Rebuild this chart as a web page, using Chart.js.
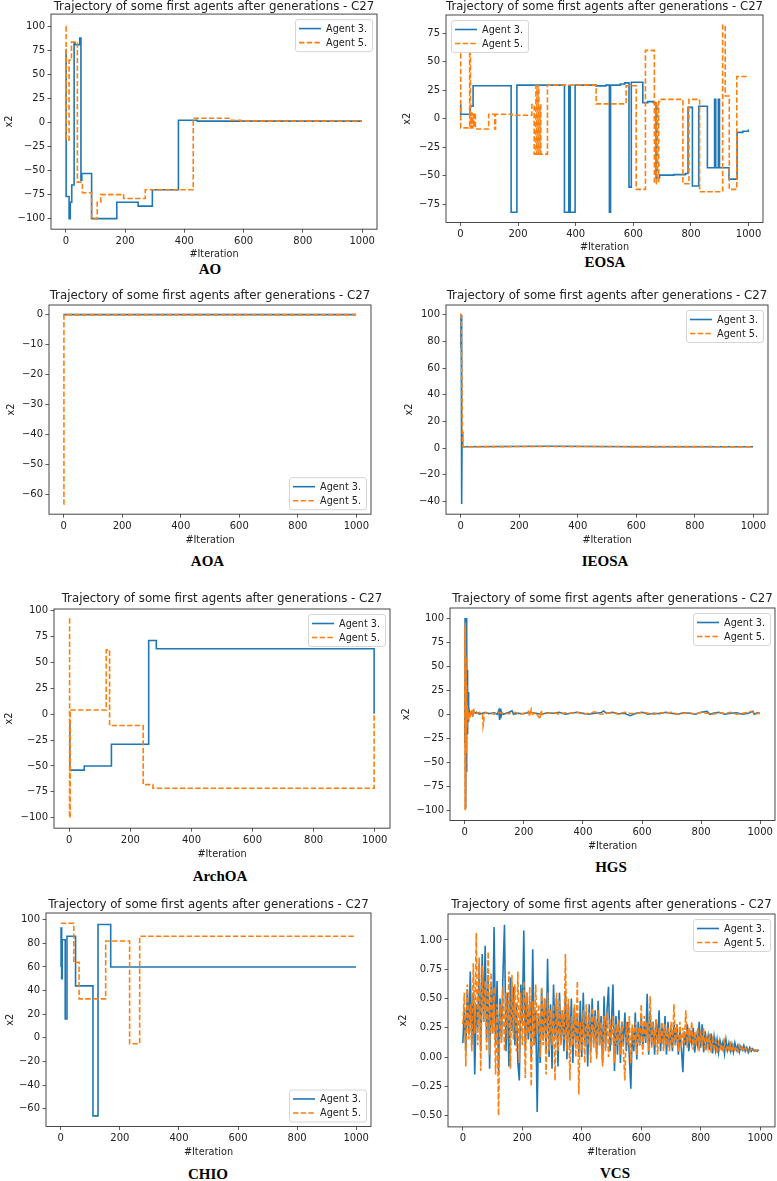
<!DOCTYPE html>
<html>
<head>
<meta charset="utf-8">
<script src="https://cdn.jsdelivr.net/npm/chart.js@4.4.1/dist/chart.umd.min.js"></script>
<style>
  html, body { margin: 0; padding: 0; background: #fff; }
  body { position: relative; width: 777px; height: 1181px; overflow: hidden; }
  canvas { position: absolute; }
  .cap {
    position: absolute; transform: translate(-50%, -50%);
    font-family: "Liberation Serif", "Times New Roman", serif;
    font-weight: bold; font-size: 15px; color: #000; white-space: nowrap;
  }
</style>
</head>
<body>
<script>
// ---------- data ----------
const seriesNames = ["Agent 3.", "Agent 5."];
const titleText = "Trajectory of some first agents after generations - C27";
const xTicks = [0, 200, 400, 600, 800, 1000];

// [iteration, x2] change points
const aoAgent3 = [[0,76],[1,-77],[11,-100],[15,-83],[20,-65],[28,83],[31,81],[47,88],[51,-60],[54,-53],[87,-100],[172,-83],[244,-87],[292,-70],[380,2.5],[444,1.5],[999,1.5]];
const aoAgent5 = [[0,100],[1,-18],[11,65],[19,84],[39,-62],[56,-73],[87,-100],[106,-83],[118,-75],[195,-79],[268,-70],[430,4.5],[555,2.5],[590,1.5],[999,1.5]];
const aoYTicks = [100, 75, 50, 25, 0, -25, -50, -75, -100];

const eosaAgent3 = [[0,12],[1,4],[34,11],[44,29],[176,-82],[196,29.5],[361,-82],[376,29],[381,-82],[398,29.5],[470,28.8],[505,29.5],[517,-82],[521,29.5],[555,30.5],[570,31.5],[585,-60],[593,32],[633,14],[650,15],[670,14],[679,-52],[691,-49.5],[740,-49],[781,-48],[790,10],[805,-59],[827,11],[857,-43],[882,17],[886,-43],[895,17],[899,-43],[932,-53],[960,-12],[980,-11],[999,-9.5]];
const eosaAgent5 = [[0,57],[1,-8],[32,57],[35,-8],[38,5],[40,-8],[43,4],[46,-7],[49,5],[52,-9],[98,4],[119,-9],[122,4],[180,3],[248,12.5],[256,-31],[262,29],[265,-31],[269,29],[272,-31],[276,12],[279,-31],[302,29.5],[471,13],[575,29],[610,-62],[642,60],[673,-57],[680,14],[684,-55],[688,15],[691,17],[772,-57],[793,17],[830,-64],[910,82],[919,20],[933,-62],[959,37],[999,37]];
const eosaYTicks = [75, 50, 25, 0, -25, -50, -75];

const aoaAgent3 = [[0,0],[999,0]];
const aoaAgent5 = [[0,-63.3],[1,0],[999,0]];
const aoaYTicks = [0, -10, -20, -30, -40, -50, -60];

const ieosaAgent3 = [[0,75],[1,98],[2,100],[3,60],[4,-42],[5,12],[6,1.5],[8,1],[300,1.3],[600,1],[999,1]];
const ieosaAgent5 = [[0,101],[1,99],[2,97],[4,60],[6,10],[7,3],[8,1],[300,1.2],[600,1.1],[999,1]];
const ieosaYTicks = [100, 80, 60, 40, 20, 0, -20, -40];

const archoaAgent3 = [[0,-10],[2,-54],[49,-50],[138,-29],[260,71],[285,63],[998,1],[999,1]];
const archoaAgent5 = [[0,92],[1,-100],[3,4],[121,62],[132,-11],[242,-68],[274,-71.5],[998,0],[999,0]];
const archoaYTicks = [100, 75, 50, 25, 0, -25, -50, -75, -100];

const hgsAgent3 = [[0,-30],[1,100],[2,-98],[3,98],[4,-95],[5,100],[6,-60],[7,80],[8,-20],[9,46],[10,-18],[11,23],[12,-8],[13,12],[14,-3],[15,4],[18,0],[22,2],[26,-1],[30,3],[35,1],[40,2],[50,0],[60,1],[70,2],[80,0.5],[90,1],[100,1.5],[110,0],[115,4],[118,-6],[120,6],[122,-4],[125,2],[130,0],[140,1],[150,2],[160,3.5],[165,0],[180,1],[200,0.5],[220,2],[240,1],[260,0],[280,1.5],[300,1],[320,2],[340,0],[360,1],[380,2],[400,1],[420,0],[440,1],[460,1.5],[470,3.5],[480,1],[500,2],[520,0.5],[540,1],[560,-1.5],[580,1],[600,2],[620,0],[640,1],[660,0.5],[680,2],[700,1],[720,0],[740,1.5],[760,1],[780,0],[800,2],[820,3],[830,0],[840,1],[860,2],[880,0],[900,1],[920,1.5],[940,0],[960,1],[975,3],[980,0],[990,1.5],[999,1]];
const hgsAgent5 = [[0,90],[1,-100],[2,95],[3,-98],[4,60],[5,-40],[6,30],[7,-15],[8,10],[9,-5],[10,5],[12,-3],[15,3],[18,-4],[20,2],[25,5],[28,-3],[30,6],[32,0],[40,1],[50,2],[60,0],[62,-12],[64,-8],[66,1],[80,1.5],[100,0],[110,2],[130,1],[150,0.5],[170,2],[190,0],[200,1],[215,3],[220,-2],[225,5],[230,0],[240,2],[255,-5],[258,4],[262,0],[280,1],[300,2],[320,0],[340,1.5],[360,1],[380,2],[400,0],[420,1],[440,2.5],[460,0],[480,1],[500,1.5],[520,0],[540,2],[560,1],[580,0.5],[600,2],[620,1],[640,0],[660,1.5],[680,1],[700,2],[720,0],[740,1],[760,1.5],[780,0],[800,2],[820,1],[840,0],[860,1.5],[880,1],[900,2],[920,0],[940,1],[960,2],[970,3],[980,0.5],[999,1]];
const hgsYTicks = [100, 75, 50, 25, 0, -25, -50, -75, -100];

const chioAgent3 = [[0,60],[1,93],[3,50],[5,83],[15,16],[21,86],[50,44],[109,-66],[126,96],[169,60],[999,60]];
const chioAgent5 = [[0,97],[44,64],[62,33],[152,82],[233,-5],[267,86],[999,86]];
const chioYTicks = [100, 80, 60, 40, 20, 0, -20, -40, -60];

// VCS: one value every vcsStep iterations
const vcsStep = 5;
const vcsAgent3 = [
  0.12, 0.42, 0.05, 0.58, 0.20, 0.73, 0.10, 0.55, -0.15, 0.45,
  0.25, 0.80, 0.05, 0.88, 0.30, 0.95, 0.15, 0.70, -0.10, 0.60,
  0.20, 1.11, 0.10, 0.65, -0.12, 0.50, 0.15, 0.72, 1.13, 0.05,
  0.55, -0.08, 0.68, 0.22, 0.60, 0.10, 0.45, -0.05, -0.20, 0.62,
  0.30, 1.08, 0.05, 0.55, 0.15, 0.48, 0.00, 0.92, 0.10, 0.40,
  -0.47, 0.35, -0.05, 0.58, 0.15, 0.50, 0.05, 0.84, 0.00, 0.45,
  -0.10, 0.62, 0.18, 0.50, -0.08, 0.55, 0.12, 0.40, 0.05, 0.55,
  -0.02, 0.45, 0.08, 0.50, -0.05, 0.42, 0.12, 0.35, 0.02, 0.48,
  0.00, 0.55, 0.10, 0.38, -0.08, 0.45, 0.05, 0.50, 0.12, 0.40,
  0.02, 0.48, 0.10, 0.35, -0.05, 0.52, 0.08, 0.40, 0.60, 0.05,
  0.30, 0.62, -0.12, 0.35, 0.02, 0.40, -0.05, 0.30, 0.10, 0.38,
  0.05, 0.30, 0.00, -0.27, 0.25, 0.05, 0.38, -0.02, 0.30, 0.10,
  0.35, 0.08, 0.28, 0.12, 0.54, 0.02, 0.38, 0.10, 0.30, 0.02,
  0.32, 0.12, 0.40, 0.05, 0.28, 0.10, 0.35, 0.02, 0.30, 0.08,
  0.25, 0.05, 0.30, 0.10, 0.28, 0.02, 0.22, 0.08, -0.13, 0.22,
  0.10, 0.28, 0.05, 0.20, 0.12, 0.25, 0.04, 0.18, 0.10, 0.30,
  0.08, 0.28, 0.04, 0.22, 0.10, 0.18, 0.06, 0.20, 0.03, 0.17,
  0.06, 0.15, 0.04, 0.14, 0.08, 0.13, 0.03, 0.15, 0.06, 0.12,
  0.05, 0.11, 0.04, 0.12, 0.06, 0.10, 0.04, 0.09, 0.06, 0.10,
  0.05, 0.08, 0.04, 0.08, 0.05, 0.07, 0.05, 0.06, 0.05, 0.06
];
const vcsAgent5 = [
  0.28, 0.55, -0.08, 0.62, 0.15, 0.45, 0.05, 0.80, 0.20, 1.06,
  0.10, 0.85, -0.12, 0.78, 0.30, 0.65, 0.05, 0.90, 0.02, 0.72,
  0.20, 0.60, -0.15, 0.45, -0.50, 0.45, 0.12, 0.60, 0.05, 0.55,
  0.15, 0.73, -0.10, 0.70, 0.15, 0.62, 0.05, 0.73, -0.05, 0.55,
  0.10, 0.65, -0.18, 0.55, 0.20, 0.60, -0.25, 0.48, 0.10, 0.62,
  0.20, 0.45, 0.00, 0.60, 0.10, 0.50, -0.15, 0.55, 0.05, 0.40,
  0.10, 0.45, -0.20, 0.55, 0.05, 0.48, 0.10, 0.40, 0.15, 0.88,
  0.05, 0.50, -0.20, 0.35, 0.10, 0.45, 0.00, 0.65, -0.32, 0.30,
  0.05, 0.40, -0.05, 0.45, 0.10, 0.38, -0.05, 0.42, 0.08, 0.35,
  -0.02, 0.40, 0.10, 0.30, -0.08, 0.35, 0.05, 0.38, 0.00, 0.32,
  0.10, 0.35, -0.05, 0.28, 0.10, 0.32, 0.02, 0.30, 0.05, -0.20,
  0.30, 0.10, 0.35, -0.05, 0.28, 0.10, 0.30, 0.02, 0.25, 0.10,
  0.45, 0.02, 0.35, 0.15, 0.30, 0.05, 0.52, 0.08, 0.30, 0.10,
  0.32, 0.02, 0.25, 0.12, 0.30, 0.05, 0.28, 0.10, 0.25, 0.05,
  0.30, 0.08, 0.45, 0.10, 0.28, 0.05, 0.30, 0.08, 0.25, 0.12,
  0.40, 0.08, 0.25, 0.12, 0.30, 0.06, 0.22, 0.10, 0.25, 0.05,
  0.22, 0.10, 0.25, 0.05, 0.18, 0.08, 0.20, 0.04, 0.15, 0.08,
  0.14, 0.03, 0.12, 0.07, 0.11, 0.04, 0.13, 0.06, 0.10, 0.05,
  0.11, 0.04, 0.10, 0.06, 0.09, 0.05, 0.10, 0.06, 0.08, 0.05,
  0.08, 0.06, 0.07, 0.05, 0.07, 0.05, 0.06, 0.05, 0.06, 0.05
];
const vcsYTicks = [1.00, 0.75, 0.50, 0.25, 0.00, -0.25, -0.50];

// ---------- layout of the 8 panels ----------
const FONT = "DejaVu Sans";
const SMALL = 9.7, TICK = 10, BIG = 11.8;
const LH_S = SMALL * 1.2, LH_B = BIG * 1.2;
const LINE_W = 1.6;

const toPts = arr => arr.map(q => ({ x: q[0], y: q[1] }));
const vcsPts = arr => arr.map((v, i) => ({ x: i * vcsStep, y: v }));

const panels = [
  { cap: "AO", box: [51, 14, 377, 229], left: 0, right: 381, titleY: 7, yLabX: 9.3, xLabY: 254, capXY: [210, 269],
    yMin: -111, yMax: 113, yTicks: aoYTicks, loc: "ur", stepped: true, a3: toPts(aoAgent3), a5: toPts(aoAgent5) },
  { cap: "EOSA", box: [446, 15, 763, 222], left: 392, right: 767, titleY: 7, yLabX: 407.3, xLabY: 246.7, capXY: [605, 262],
    yMin: -91, yMax: 91, yTicks: eosaYTicks, loc: "ul", stepped: true, a3: toPts(eosaAgent3), a5: toPts(eosaAgent5) },
  { cap: "AOA", box: [49, 305, 371, 514], left: 0, right: 375, titleY: 295.7, yLabX: 11.7, xLabY: 540, capXY: [207.5, 561],
    yMin: -66.6, yMax: 3.2, yTicks: aoaYTicks, loc: "lr", stepped: true, a3: toPts(aoaAgent3), a5: toPts(aoaAgent5) },
  { cap: "IEOSA", box: [446, 305, 768, 514], left: 392, right: 772, titleY: 295.7, yLabX: 409.7, xLabY: 540, capXY: [605, 561],
    yMin: -49.6, yMax: 107.3, yTicks: ieosaYTicks, loc: "ur", stepped: false, a3: toPts(ieosaAgent3), a5: toPts(ieosaAgent5) },
  { cap: "ArchOA", box: [54, 609, 390, 828], left: 0, right: 392, titleY: 599, yLabX: 9.3, xLabY: 854, capXY: [220, 876],
    yMin: -110, yMax: 101.4, yTicks: archoaYTicks, loc: "ur", stepped: true, a3: toPts(archoaAgent3), a5: toPts(archoaAgent5) },
  { cap: "HGS", box: [450, 608, 775, 820], left: 392, right: 777, titleY: 599, yLabX: 406.3, xLabY: 845.7, capXY: [611, 867],
    yMin: -110.4, yMax: 110.4, yTicks: hgsYTicks, loc: "ur", stepped: false, a3: toPts(hgsAgent3), a5: toPts(hgsAgent5) },
  { cap: "CHIO", box: [46, 913, 371, 1126], left: 0, right: 375, titleY: 905, yLabX: 10, xLabY: 1151.7, capXY: [208, 1174],
    yMin: -75, yMax: 105.7, yTicks: chioYTicks, loc: "lr", stepped: true, a3: toPts(chioAgent3), a5: toPts(chioAgent5) },
  { cap: "VCS", box: [448, 914, 775, 1127], left: 392, right: 777, titleY: 905, yLabX: 403, xLabY: 1152.3, capXY: [615, 1173],
    yMin: -0.597, yMax: 1.222, yTicks: vcsYTicks, dec: 2, loc: "ur", stepped: false, a3: vcsPts(vcsAgent3), a5: vcsPts(vcsAgent5) }
];

// axes frame (all four spines)
const framePlugin = {
  id: "frame",
  afterDatasetsDraw(chart) {
    const a = chart.chartArea, c = chart.ctx;
    c.save();
    c.strokeStyle = "#333";
    c.lineWidth = 0.9;
    c.strokeRect(a.left, a.top, a.right - a.left, a.bottom - a.top);
    c.restore();
  }
};

// matplotlib-like legend inside the axes
const legendPlugin = {
  id: "mplLegend",
  afterDraw(chart, args, opts) {
    const a = chart.chartArea, c = chart.ctx;
    c.save();
    c.font = SMALL + "px '" + FONT + "'";
    const tw = Math.max(...seriesNames.map(s => c.measureText(s).width));
    const w = 31 + tw + 5, h = 32, inset = 5;
    const x0 = opts.loc === "ul" ? a.left + inset : a.right - inset - w;
    const y0 = opts.loc === "lr" ? a.bottom - inset - h : a.top + inset;
    c.beginPath();
    c.roundRect(x0 + 0.5, y0 + 0.5, w, h, 2.5);
    c.fillStyle = "rgba(255,255,255,0.8)";
    c.fill();
    c.strokeStyle = "#cccccc";
    c.lineWidth = 0.8;
    c.stroke();
    chart.data.datasets.forEach(function (ds, i) {
      const y = y0 + 9.5 + i * 14;
      c.beginPath();
      c.setLineDash(ds.borderDash || []);
      c.strokeStyle = ds.borderColor;
      c.lineWidth = ds.borderWidth;
      c.moveTo(x0 + 4, y);
      c.lineTo(x0 + 26, y);
      c.stroke();
      c.setLineDash([]);
      c.fillStyle = "#222";
      c.textBaseline = "middle";
      c.fillText(ds.label, x0 + 31, y + 0.5);
    });
    c.restore();
  }
};

function fmt(v, dec) {
  const s = dec ? Math.abs(v).toFixed(dec) : String(Math.abs(v));
  return v < 0 ? "\u2212" + s : s;
}

panels.forEach(function (p) {
  const [l, t, r, b] = p.box;
  const top = Math.round(p.titleY - 8);
  const xh = p.xLabY - b + LH_S / 2;
  const cw = p.right - p.left;
  const ch = Math.round(b + xh - top);
  const titlePadTop = p.titleY - top - LH_B / 2;
  const titlePadBottom = Math.max(0, t - top - LH_B - titlePadTop);

  const canvas = document.createElement("canvas");
  canvas.width = cw;
  canvas.height = ch;
  canvas.style.left = p.left + "px";
  canvas.style.top = top + "px";
  document.body.appendChild(canvas);

  const cap = document.createElement("div");
  cap.className = "cap";
  cap.textContent = p.cap;
  cap.style.left = p.capXY[0] + "px";
  cap.style.top = p.capXY[1] + "px";
  document.body.appendChild(cap);

  const tickFont = { family: FONT, size: TICK };
  const labFont = { family: FONT, size: SMALL };
  const gridOpts = { drawOnChartArea: false, drawTicks: true, tickLength: 3.5, color: "#333", lineWidth: 0.8 };

  new Chart(canvas.getContext("2d"), {
    type: "line",
    data: {
      datasets: [
        { label: seriesNames[0], data: p.a3, borderColor: "#1f77b4", borderWidth: LINE_W,
          pointRadius: 0, stepped: p.stepped, tension: 0, order: 1 },
        { label: seriesNames[1], data: p.a5, borderColor: "#ff7f0e", borderWidth: LINE_W,
          borderDash: [5.4, 2.3], pointRadius: 0, stepped: p.stepped, tension: 0, order: 0 }
      ]
    },
    options: {
      responsive: false,
      animation: false,
      events: [],
      layout: { padding: { left: 0, top: 0, bottom: 0, right: p.right - r } },
      plugins: {
        legend: { display: false },
        tooltip: { enabled: false },
        title: {
          display: true, text: titleText, fullSize: false, color: "#222",
          font: { family: FONT, size: BIG, weight: "normal", lineHeight: 1.2 },
          padding: { top: titlePadTop, bottom: titlePadBottom }
        },
        mplLegend: { loc: p.loc }
      },
      scales: {
        x: {
          type: "linear", min: -50, max: 1050,
          afterBuildTicks: s => { s.ticks = xTicks.map(v => ({ value: v })); },
          afterFit: s => { s.height = xh; },
          grid: gridOpts,
          border: { display: false },
          ticks: { font: tickFont, color: "#222", padding: 2.5, maxRotation: 0, autoSkip: false,
                   callback: v => fmt(v) },
          title: { display: true, text: "#Iteration", color: "#222", font: labFont, padding: 0 }
        },
        y: {
          type: "linear", min: p.yMin, max: p.yMax,
          afterBuildTicks: s => { s.ticks = p.yTicks.map(v => ({ value: v })); },
          afterFit: s => { s.width = l - p.left; },
          grid: gridOpts,
          border: { display: false },
          ticks: { font: tickFont, color: "#222", padding: 2.5, autoSkip: false,
                   callback: v => fmt(v, p.dec) },
          title: { display: true, text: "x2", color: "#222", font: labFont,
                   padding: { top: p.yLabX - p.left - LH_S / 2, bottom: 0 } }
        }
      }
    },
    plugins: [framePlugin, legendPlugin]
  });
});
</script>
</body>
</html>
